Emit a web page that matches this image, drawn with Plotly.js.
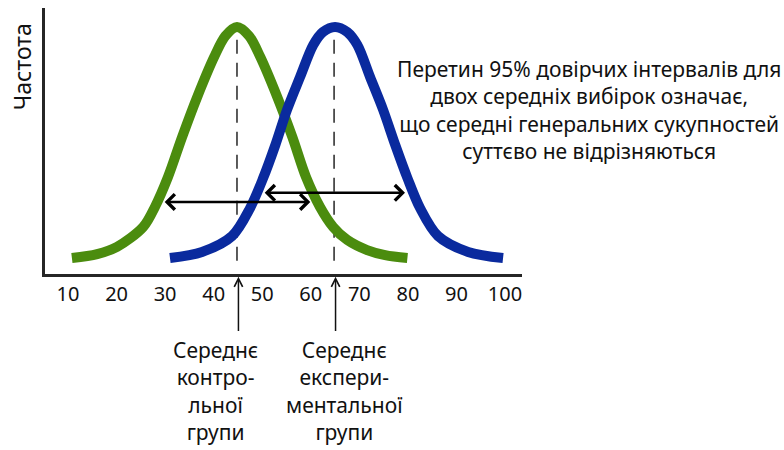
<!DOCTYPE html>
<html>
<head>
<meta charset="utf-8">
<script src="https://cdn.plot.ly/plotly-3.0.1.min.js"></script>
<style>html,body{margin:0;padding:0;background:#fff;}#chart{width:784px;height:450px;}</style>
</head>
<body>
<div id="chart"></div>
<script>
// Control group frequency curve
const controlX = [10.8, 16.0, 20.1, 25.5, 27.9, 30.6, 33.5, 36.6, 40.1, 42.4, 44.8, 47.3, 49.6, 53.1, 56.2, 59.0, 61.9, 64.6, 67.5, 71.6, 75.3, 79.9];
const controlY = [6.0, 7.5, 10.2, 17.7, 25.2, 36.5, 51.5, 66.5, 81.6, 89.5, 92.9, 89.5, 81.6, 66.5, 51.5, 36.5, 25.2, 17.7, 12.8, 9.0, 7.1, 6.0];
// Experimental group frequency curve
const expX = [31.0, 37.6, 43.8, 47.5, 50.2, 52.7, 55.1, 57.8, 60.5, 62.5, 65.0, 67.5, 69.6, 72.2, 74.9, 77.4, 79.9, 82.5, 86.2, 92.4, 99.6];
const expY = [6.0, 8.3, 14.3, 24.8, 36.1, 48.5, 61.7, 74.1, 86.1, 91.0, 92.9, 91.0, 86.1, 74.1, 61.7, 48.5, 36.1, 24.8, 14.3, 8.3, 6.0];
// Means
const meanControl = 44.8;
const meanExp = 64.8;
const meanLineTop = 92.9;
const meanLineBottom = 5.0;
// 95% confidence intervals [low, high] and their drawing height
const ciControl = [29.6, 59.9];
const ciControlLevel = 27.1;
const ciExp = [50.2, 79.4];
const ciExpLevel = 30.5;
// Axis ticks
const tickValues = [10, 20, 30, 40, 50, 60, 70, 80, 90, 100];
const tickLabels = ['10', '20', '30', '40', '50', '60', '70', '80', '90', '100'];
// Texts
const yTitle = 'Частота';
const noteLines = ['Перетин 95% довірчих інтервалів для', 'двох середніх вибірок означає,', 'що середні генеральних сукупностей', 'суттєво не відрізняються'];
const controlLabel = ['Середнє', 'контро-', 'льної', 'групи'];
const expLabel = ['Середнє', 'експери-', 'ментальної', 'групи'];

const FONT = 'Noto Sans, DejaVu Sans, sans-serif';
const TXT = '#111111';

const traces = [
  {x: [meanControl, meanControl], y: [meanLineBottom, meanLineTop], mode: 'lines',
   line: {color: '#4a4a4a', width: 1.8, dash: '14px,9px'}, hoverinfo: 'skip'},
  {x: [meanExp, meanExp], y: [meanLineBottom, meanLineTop], mode: 'lines',
   line: {color: '#4a4a4a', width: 1.8, dash: '14px,9px'}, hoverinfo: 'skip'},
  {x: controlX, y: controlY, mode: 'lines', line: {color: '#4b8c0e', width: 10, shape: 'spline', smoothing: 0.9}},
  {x: expX, y: expY, mode: 'lines', line: {color: '#0a2a9e', width: 10, shape: 'spline', smoothing: 0.9}}
];

const layout = {
  width: 784, height: 450,
  margin: {l: 45, r: 262, t: 8, b: 176},
  paper_bgcolor: '#fff', plot_bgcolor: '#fff',
  showlegend: false,
  xaxis: {range: [5.26, 103.5], tickvals: tickValues, ticktext: tickLabels, ticks: '', showgrid: false, zeroline: false,
    showline: true, linewidth: 3, linecolor: '#262626', tickfont: {family: FONT, size: 20, color: TXT}},
  yaxis: {range: [0, 100], showticklabels: false, ticks: '', showgrid: false, zeroline: false,
    showline: true, linewidth: 3, linecolor: '#262626'}
};
const xr = layout.xaxis.range;
function toPaper(v) { return (v - xr[0]) / (xr[1] - xr[0]); }

const annotations = [];
// CI double arrows
[[ciControl, ciControlLevel], [ciExp, ciExpLevel]].forEach(function (c) {
  annotations.push({x: c[0][1], y: c[1], ax: c[0][0], ay: c[1], xref: 'x', yref: 'y', axref: 'x', ayref: 'y',
    text: '', showarrow: true, arrowhead: 4, startarrowhead: 4, arrowside: 'end+start', arrowsize: 1.2, startarrowsize: 1.2,
    arrowwidth: 2.5, arrowcolor: '#000'});
});
// arrows pointing to means from below the axis
[meanControl + 0.3, meanExp + 0.3].forEach(function (m) {
  annotations.push({x: m, y: -0.01, ax: m, ay: -0.22, xref: 'x', yref: 'paper', axref: 'x', ayref: 'paper',
    text: '', showarrow: true, arrowhead: 5, arrowsize: 1.1, arrowwidth: 1.5, arrowcolor: '#111'});
});
// y title
annotations.push({x: -0.048, y: 0.778, xref: 'paper', yref: 'paper', text: yTitle, textangle: -90, showarrow: false,
  font: {family: FONT, size: 23, color: TXT}, xanchor: 'center', yanchor: 'middle'});
// note text
annotations.push({x: 1.14, y: 0.617, xref: 'paper', yref: 'paper', text: noteLines.join('<br>'), showarrow: false,
  align: 'center', xanchor: 'center', yanchor: 'middle', font: {family: FONT, size: 21, color: TXT}});
// mean labels
annotations.push({x: toPaper(meanControl) - 0.045, y: 0, xref: 'paper', yref: 'paper', text: controlLabel.join('<br>'), showarrow: false,
  align: 'center', xanchor: 'center', yanchor: 'top', yshift: -60, font: {family: FONT, size: 21, color: TXT}});
annotations.push({x: toPaper(meanExp) + 0.021, y: 0, xref: 'paper', yref: 'paper', text: expLabel.join('<br>'), showarrow: false,
  align: 'center', xanchor: 'center', yanchor: 'top', yshift: -60, font: {family: FONT, size: 21, color: TXT}});
layout.annotations = annotations;

Plotly.newPlot('chart', traces, layout, {displayModeBar: false, staticPlot: true});
</script>
</body>
</html>
